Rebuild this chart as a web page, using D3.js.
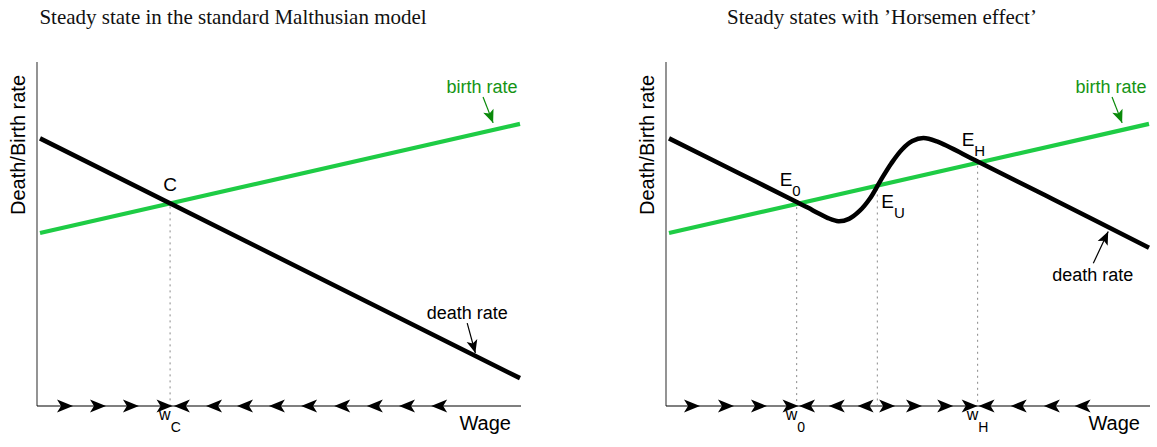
<!DOCTYPE html>
<html><head><meta charset="utf-8">
<script src="https://cdn.jsdelivr.net/npm/d3@7"></script>
<style>body{margin:0;background:#fff}svg{display:block}</style>
</head><body>
<svg id="c" width="1157" height="447"></svg>
<script>
// ---------------- data ----------------
const wageDomain = [0, 10];
const rateDomain = [0, 10];
const titles = ["Steady state in the standard Malthusian model", "Steady states with \u2019Horsemen effect\u2019"];
const yAxisLabel = "Death/Birth rate";
const xAxisLabel = "Wage";

// left panel: standard Malthusian model
const leftBirth = [[0, 5.03], [10, 8.20]];
const leftDeath = [[0, 7.78], [10, 0.81]];
const leftEquilibria = [{ w: 2.71, r: 5.89, name: "C", sub: "", wage: "C" }];
const leftFlowRight = [0.667, 1.354, 2.04, 2.74];
const leftFlowLeft = [2.81, 3.48, 4.125, 4.79, 5.46, 6.15, 6.83, 7.5, 8.17];

// right panel: Horsemen effect
const rightBirth = [[0, 5.03], [10, 8.20]];
const rightDeath = [[0, 7.78], [1.5, 6.74], [2.66, 5.93], [2.9, 5.76], [3.1, 5.61], [3.3, 5.47],
  [3.53, 5.37], [3.75, 5.44], [3.97, 5.67], [4.19, 6.04], [4.41, 6.56], [4.63, 7.05], [4.85, 7.45],
  [5.07, 7.70], [5.3, 7.79], [5.58, 7.69], [6.44, 7.10], [8, 6.01], [10, 4.60]];
const rightEquilibria = [
  { w: 2.66, r: 5.87, name: "E", sub: "0", wage: "0" },
  { w: 4.34, r: 6.41, name: "E", sub: "U", wage: null },
  { w: 6.43, r: 7.07, name: "E", sub: "H", wage: "H" }];
const rightFlowRight = [0.625, 1.333, 2.02, 2.677, 4.69, 5.25, 5.9, 6.41];
const rightFlowLeft = [2.73, 3.35, 3.95, 6.47, 7.14, 7.83, 8.47];

// annotations (text anchor, arrow tail, arrow tip) in data units
const leftAnnot = [
  { text: "birth rate", kind: "birth", tx: 9.21, ty: 9.10, ax: 9.23, ay: 8.98, bx: 9.44, by: 8.23 },
  { text: "death rate", kind: "death", tx: 8.90, ty: 2.53, ax: 8.90, ay: 2.41, bx: 9.07, by: 1.54 }];
const rightAnnot = [
  { text: "birth rate", kind: "birth", tx: 9.21, ty: 9.10, ax: 9.23, ay: 8.98, bx: 9.44, by: 8.23 },
  { text: "death rate", kind: "death", tx: 8.83, ty: 3.63, ax: 8.84, ay: 4.15, bx: 9.15, by: 5.07 }];

// ---------------- layout / style ----------------
const axisY = 406, axisTop = 62, panelW = 484;
const panels = [
  { ox: 37, titleX: 233, labX: 25, birth: leftBirth, death: leftDeath, eq: leftEquilibria,
    fr: leftFlowRight, fl: leftFlowLeft, annot: leftAnnot, title: titles[0],
    eqOff: [[0, -12, "middle"]] },
  { ox: 666, titleX: 882, labX: 654, birth: rightBirth, death: rightDeath, eq: rightEquilibria,
    fr: rightFlowRight, fl: rightFlowLeft, annot: rightAnnot, title: titles[1],
    eqOff: [[-17, -18, "start"], [4, 23, "start"], [-16, -17, "start"]] }
];
const GREEN = "#1ecc45", GREEN_TXT = "#149414", SANS = "'Liberation Sans', Arial, sans-serif";

const x = d3.scaleLinear().domain(wageDomain).range([3, 483]);
const y = d3.scaleLinear().domain(rateDomain).range([axisY, axisTop]);
const line = d3.line().x(d => x(d[0])).y(d => y(d[1]));
const curve = d3.line().x(d => x(d[0])).y(d => y(d[1])).curve(d3.curveCatmullRom.alpha(0.5));

const svg = d3.select("#c");

function annotArrow(g, x1, y1, x2, y2, color) {
  g.append("line").attr("x1", x1).attr("y1", y1).attr("x2", x2).attr("y2", y2)
    .attr("stroke", color).attr("stroke-width", 1.2);
  const ang = Math.atan2(y2 - y1, x2 - x1) * 180 / Math.PI;
  g.append("path").attr("d", "M0,0L-13,-5.5L-10,0L-13,5.5Z")
    .attr("transform", `translate(${x2},${y2}) rotate(${ang})`).attr("fill", color);
}

panels.forEach(p => {
  const g = svg.append("g").attr("transform", `translate(${p.ox},0)`);
  // title
  svg.append("text").attr("x", p.titleX).attr("y", 24).attr("text-anchor", "middle")
    .attr("font-family", "'Liberation Serif', 'Times New Roman', serif").attr("font-size", 21)
    .attr("fill", "#111").text(p.title);
  // y label
  svg.append("text").attr("transform", `translate(${p.labX},${(axisTop + 228) / 2}) rotate(-90)`)
    .attr("text-anchor", "middle").attr("font-family", SANS).attr("font-size", 20).text(yAxisLabel);
  // axes
  g.append("line").attr("x1", 0).attr("x2", 0).attr("y1", axisTop).attr("y2", axisY)
    .attr("stroke", "#666").attr("stroke-width", 1.4);
  g.append("line").attr("x1", 0).attr("x2", panelW).attr("y1", axisY).attr("y2", axisY)
    .attr("stroke", "#000").attr("stroke-width", 1.2);
  g.append("text").attr("x", panelW - 10).attr("y", 430).attr("text-anchor", "end")
    .attr("font-family", SANS).attr("font-size", 20).text(xAxisLabel);
  // dotted lines
  p.eq.forEach(e => {
    g.append("line").attr("x1", x(e.w)).attr("x2", x(e.w)).attr("y1", y(e.r) + 3).attr("y2", axisY)
      .attr("stroke", "#888").attr("stroke-width", 1).attr("stroke-dasharray", "2,4");
  });
  // curves
  g.append("path").attr("d", line(p.birth)).attr("fill", "none").attr("stroke", GREEN).attr("stroke-width", 4.2);
  g.append("path").attr("d", p.death.length > 2 ? curve(p.death) : line(p.death)).attr("fill", "none")
    .attr("stroke", "#000").attr("stroke-width", 4.5).attr("stroke-linejoin", "round");
  // flow arrows on axis
  const shape = "M1,0L-15,-6.5L-11,0L-15,6.5Z";
  p.fr.forEach(v => g.append("path").attr("d", shape).attr("fill", "#000")
    .attr("transform", `translate(${x(v)},${axisY})`));
  p.fl.forEach(v => g.append("path").attr("d", shape).attr("fill", "#000")
    .attr("transform", `translate(${x(v)},${axisY}) scale(-1,1)`));
  // equilibrium labels
  p.eq.forEach((e, i) => {
    const [dx, dy, anchor] = p.eqOff[i];
    const t = g.append("text").attr("x", x(e.w) + dx).attr("y", y(e.r) + dy).attr("text-anchor", anchor)
      .attr("font-family", SANS).attr("font-size", 19).text(e.name);
    if (e.sub) t.append("tspan").attr("dy", 10).attr("font-size", 15).text(e.sub);
    if (e.wage) {
      const wt = g.append("text").attr("x", x(e.w) - 11).attr("y", 420)
        .attr("font-family", SANS).attr("font-size", 16).text("w");
      wt.append("tspan").attr("dy", 12).attr("font-size", 14).text(e.wage);
    }
  });
  // annotations
  p.annot.forEach(a => {
    const col = a.kind === "birth" ? GREEN_TXT : "#000";
    g.append("text").attr("x", x(a.tx)).attr("y", y(a.ty)).attr("text-anchor", "middle")
      .attr("font-family", SANS).attr("font-size", 18).attr("fill", col).text(a.text);
    annotArrow(g, x(a.ax), y(a.ay), x(a.bx), y(a.by), a.kind === "birth" ? "#0a8a0a" : "#000");
  });
});
</script>
</body></html>
